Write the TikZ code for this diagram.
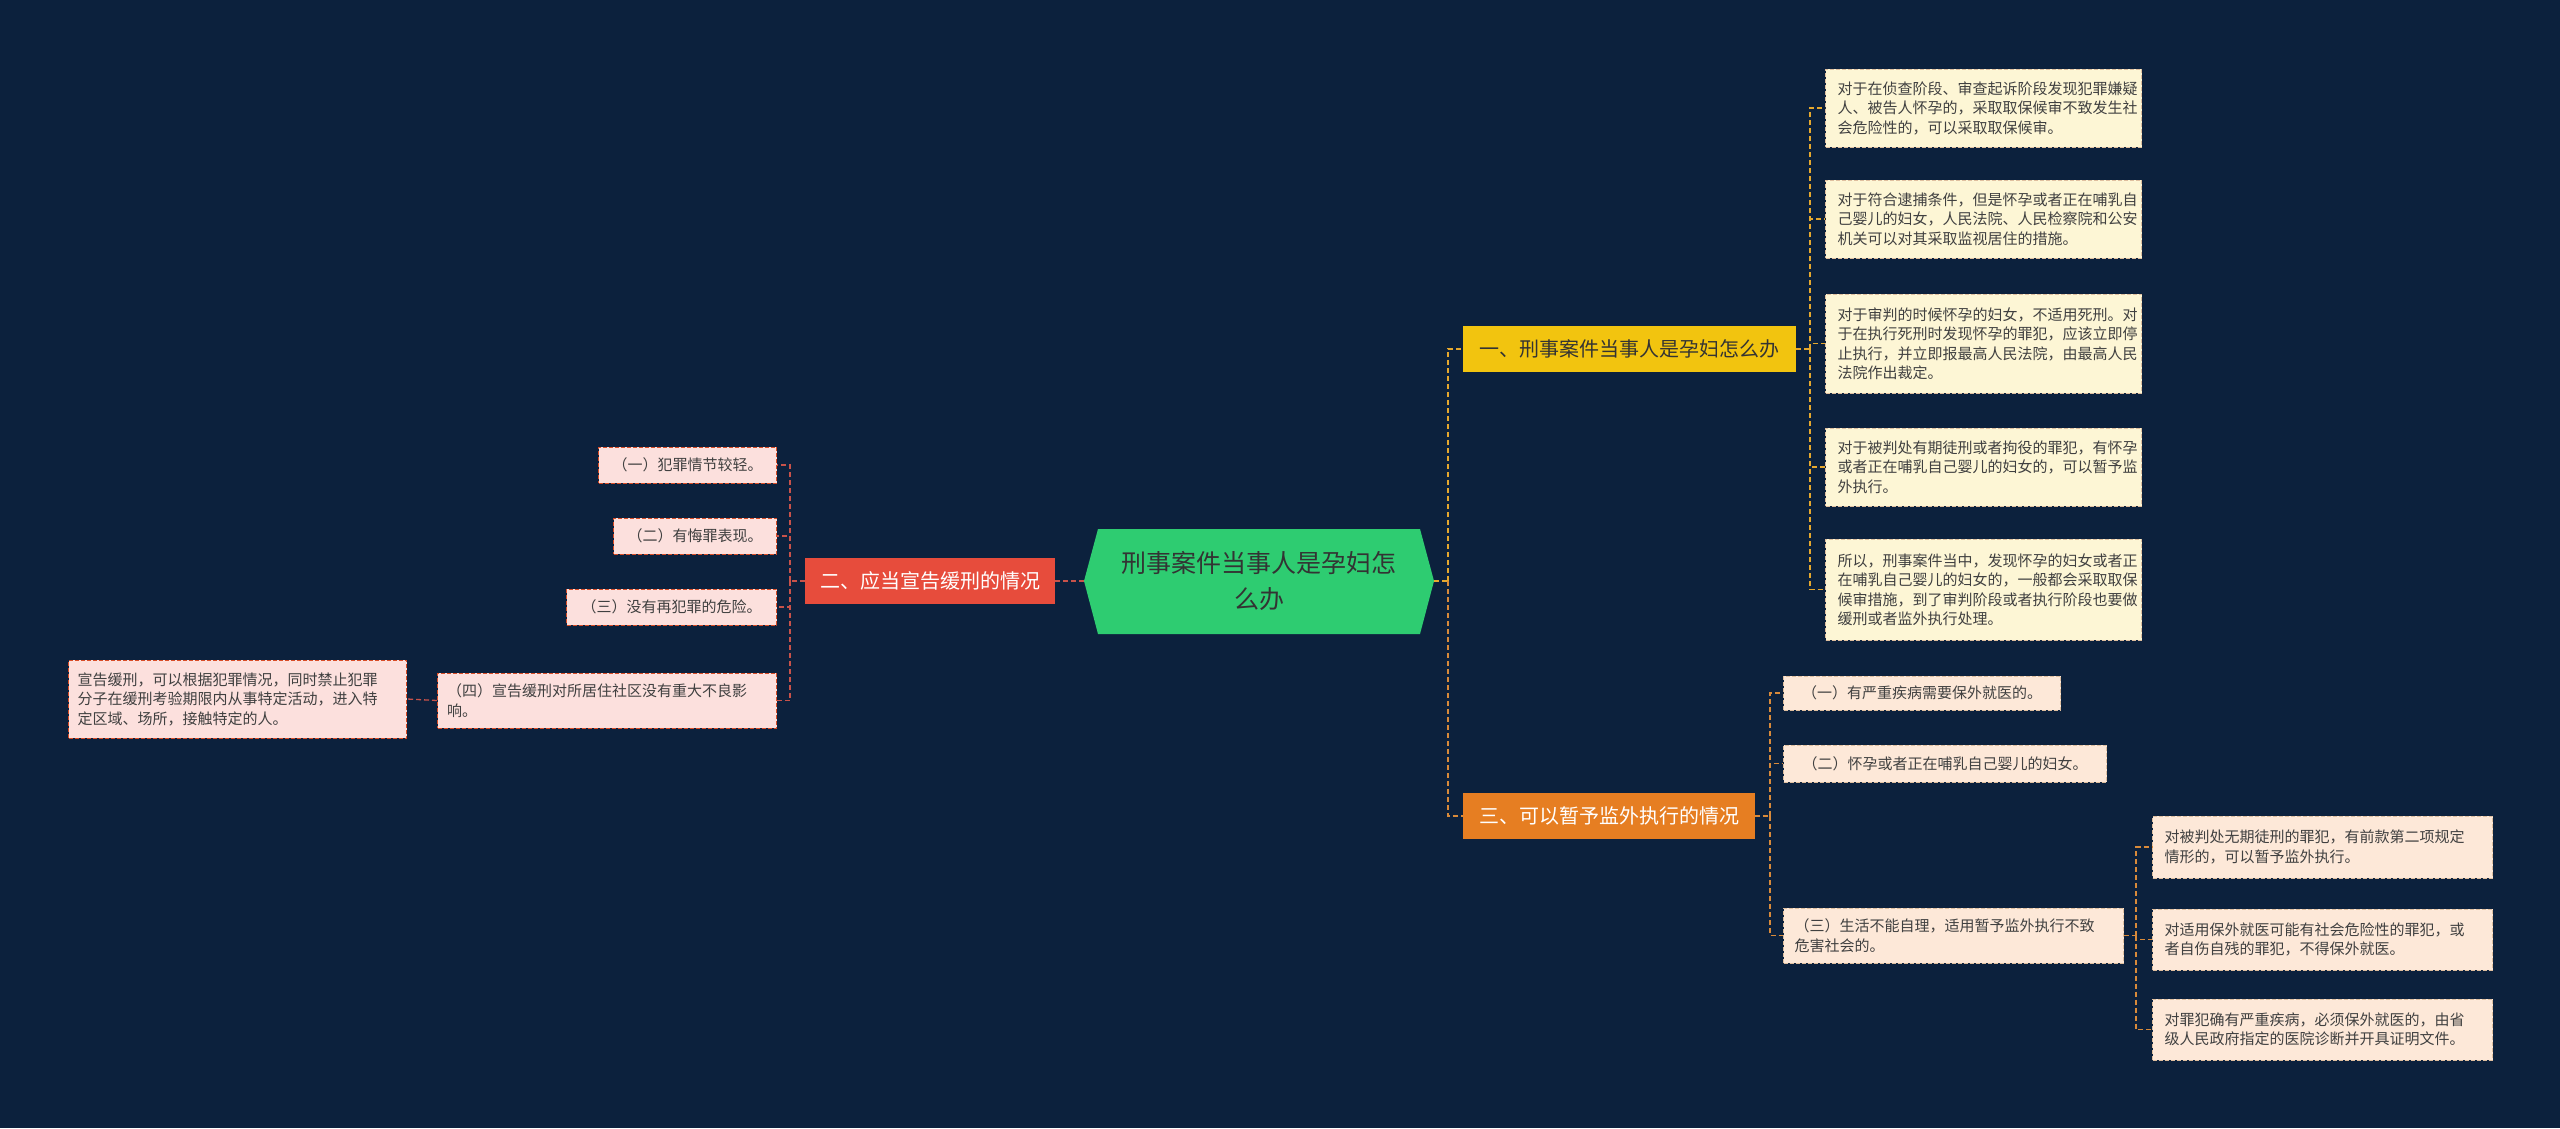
\documentclass[tikz,border=0pt]{standalone}
\usepackage{fontspec}
\setmainfont{Noto Sans CJK SC}
\begin{document}
\begin{tikzpicture}[x=1pt,y=-1pt,
  box/.style={draw=#1,dashed,dash pattern=on 4pt off 2pt,line width=1pt,inner sep=0pt,align=left,font=\fontsize{15}{19.5}\selectfont,text=black!75},
  rleaf/.style={box=brown!50,fill=cream,text width=316pt},
  oleaf/.style={box=brown!50,fill=peach},
  pleaf/.style={box=red!40!brown,fill=pink1},
  ycon/.style={draw=lineY,dashed,dash pattern=on 5pt off 3pt,line width=1.3pt},
  ocon/.style={draw=lineO,dashed,dash pattern=on 5pt off 3pt,line width=1.3pt},
  rcon/.style={draw=lineR,dashed,dash pattern=on 5pt off 3pt,line width=1.3pt},
  branch/.style={inner sep=0pt,font=\fontsize{20}{24}\selectfont,minimum height=46pt}
]
\definecolor{bg}{HTML}{0C213D}
\definecolor{cream}{HTML}{FDF6D5}
\definecolor{peach}{HTML}{FDE8D8}
\definecolor{pink1}{HTML}{FCE0DD}
\definecolor{lineY}{HTML}{E6A82E}
\definecolor{lineO}{HTML}{D98A3A}
\definecolor{lineR}{HTML}{C8524A}
\useasboundingbox (0,0) rectangle (2560,1128);
\fill[bg] (0,0) rectangle (2560,1128);
% root
\fill[green!70!black!60!green, fill={rgb,255:red,46;green,204;blue,113}] (1098,529) -- (1420,529) -- (1434,581) -- (1420,634) -- (1098,634) -- (1084,581) -- cycle;
\node[align=center,font=\fontsize{25}{36}\selectfont,text=black!80,minimum width=350pt,minimum height=105pt] (root) at (1259,581) {刑事案件当事人是孕妇怎\\么办};
% branches
\node[branch,fill={rgb,255:red,242;green,196;blue,15},text=black!80,minimum width=333pt] (b1) at (1629.5,349) {一、刑事案件当事人是孕妇怎么办};
\node[branch,fill={rgb,255:red,230;green,126;blue,34},text=white,minimum width=292pt] (b3) at (1609,816) {三、可以暂予监外执行的情况};
\node[branch,fill={rgb,255:red,231;green,76;blue,60},text=white,minimum width=250pt] (b2) at (930,581) {二、应当宣告缓刑的情况};
% right leaves
\node[rleaf,minimum height=78pt,anchor=west] (l1) at (1825,108) {\hspace*{12pt}\parbox{316pt}{对于在侦查阶段、审查起诉阶段发现犯罪嫌疑\\人、被告人怀孕的，采取取保候审不致发生社\\会危险性的，可以采取取保候审。}};
\node[rleaf,minimum height=78pt,anchor=west] (l2) at (1825,219) {\hspace*{12pt}\parbox{316pt}{对于符合逮捕条件，但是怀孕或者正在哺乳自\\己婴儿的妇女，人民法院、人民检察院和公安\\机关可以对其采取监视居住的措施。}};
\node[rleaf,minimum height=99pt,anchor=west] (l3) at (1825,343.5) {\hspace*{12pt}\parbox{316pt}{对于审判的时候怀孕的妇女，不适用死刑。对\\于在执行死刑时发现怀孕的罪犯，应该立即停\\止执行，并立即报最高人民法院，由最高人民\\法院作出裁定。}};
\node[rleaf,minimum height=78pt,anchor=west] (l4) at (1825,467) {\hspace*{12pt}\parbox{316pt}{对于被判处有期徒刑或者拘役的罪犯，有怀孕\\或者正在哺乳自己婴儿的妇女的，可以暂予监\\外执行。}};
\node[rleaf,minimum height=101pt,anchor=west] (l5) at (1825,589.5) {\hspace*{12pt}\parbox{316pt}{所以，刑事案件当中，发现怀孕的妇女或者正\\在哺乳自己婴儿的妇女的，一般都会采取取保\\候审措施，到了审判阶段或者执行阶段也要做\\缓刑或者监外执行处理。}};
% branch 3 children
\node[oleaf,minimum width=277pt,minimum height=34pt,anchor=west,inner xsep=12pt] (c1) at (1783,693) {（一）有严重疾病需要保外就医的。};
\node[oleaf,minimum width=323pt,minimum height=37pt,anchor=west,inner xsep=12pt] (c2) at (1783,763.5) {（二）怀孕或者正在哺乳自己婴儿的妇女。};
\node[oleaf,minimum width=340pt,minimum height=55pt,anchor=west] (c3) at (1783,935.5) {\hspace*{8pt}\parbox{326pt}{（三）生活不能自理，适用暂予监外执行不致\\危害社会的。}};
\node[oleaf,minimum width=340pt,minimum height=62pt,anchor=west] (g1) at (2152,847) {\hspace*{10pt}\parbox{326pt}{对被判处无期徒刑的罪犯，有前款第二项规定\\情形的，可以暂予监外执行。}};
\node[oleaf,minimum width=340pt,minimum height=61pt,anchor=west] (g2) at (2152,939.5) {\hspace*{10pt}\parbox{326pt}{对适用保外就医可能有社会危险性的罪犯，或\\者自伤自残的罪犯，不得保外就医。}};
\node[oleaf,minimum width=340pt,minimum height=61pt,anchor=west] (g3) at (2152,1029.5) {\hspace*{10pt}\parbox{326pt}{对罪犯确有严重疾病，必须保外就医的，由省\\级人民政府指定的医院诊断并开具证明文件。}};
% left children
\node[pleaf,minimum width=178pt,minimum height=36pt,anchor=east,inner xsep=10pt] (d1) at (777,465) {（一）犯罪情节较轻。};
\node[pleaf,minimum width=163pt,minimum height=36pt,anchor=east,inner xsep=10pt] (d2) at (777,536) {（二）有悔罪表现。};
\node[pleaf,minimum width=210pt,minimum height=36pt,anchor=east,inner xsep=10pt] (d3) at (777,607) {（三）没有再犯罪的危险。};
\node[pleaf,minimum width=339pt,minimum height=55pt,anchor=east] (d4) at (777,700.5) {\hspace*{6pt}\parbox{326pt}{（四）宣告缓刑对所居住社区没有重大不良影\\响。}};
\node[pleaf,minimum width=338pt,minimum height=78pt,anchor=east] (e1) at (407,699) {\hspace*{6pt}\parbox{326pt}{宣告缓刑，可以根据犯罪情况，同时禁止犯罪\\分子在缓刑考验期限内从事特定活动，进入特\\定区域、场所，接触特定的人。}};
% connectors
\coordinate (jr) at (1448,581);
\draw[ycon] (root.east) -- (jr);
\draw[ycon] (jr) |- (b1.west);
\draw[ocon] (jr) |- (b3.west);
\coordinate (j1) at (1810,349);
\draw[ycon] (b1.east) -- (j1);
\foreach \n in {l1,l2,l3,l4,l5} \draw[ycon] (j1) |- (\n.west);
\coordinate (j3) at (1770,816);
\draw[ocon] (b3.east) -- (j3);
\foreach \n in {c1,c2,c3} \draw[ocon] (j3) |- (\n.west);
\coordinate (j4) at (2136,935.5);
\draw[ocon] (c3.east) -- (j4);
\foreach \n in {g1,g2,g3} \draw[ocon] (j4) |- (\n.west);
\draw[rcon] (root.west) -- (b2.east);
\coordinate (j2) at (790,581);
\draw[rcon] (b2.west) -- (j2);
\foreach \n in {d1,d2,d3,d4} \draw[rcon] (j2) |- (\n.east);
\draw[rcon] (d4.west) -- (e1.east);
\end{tikzpicture}
\end{document}
